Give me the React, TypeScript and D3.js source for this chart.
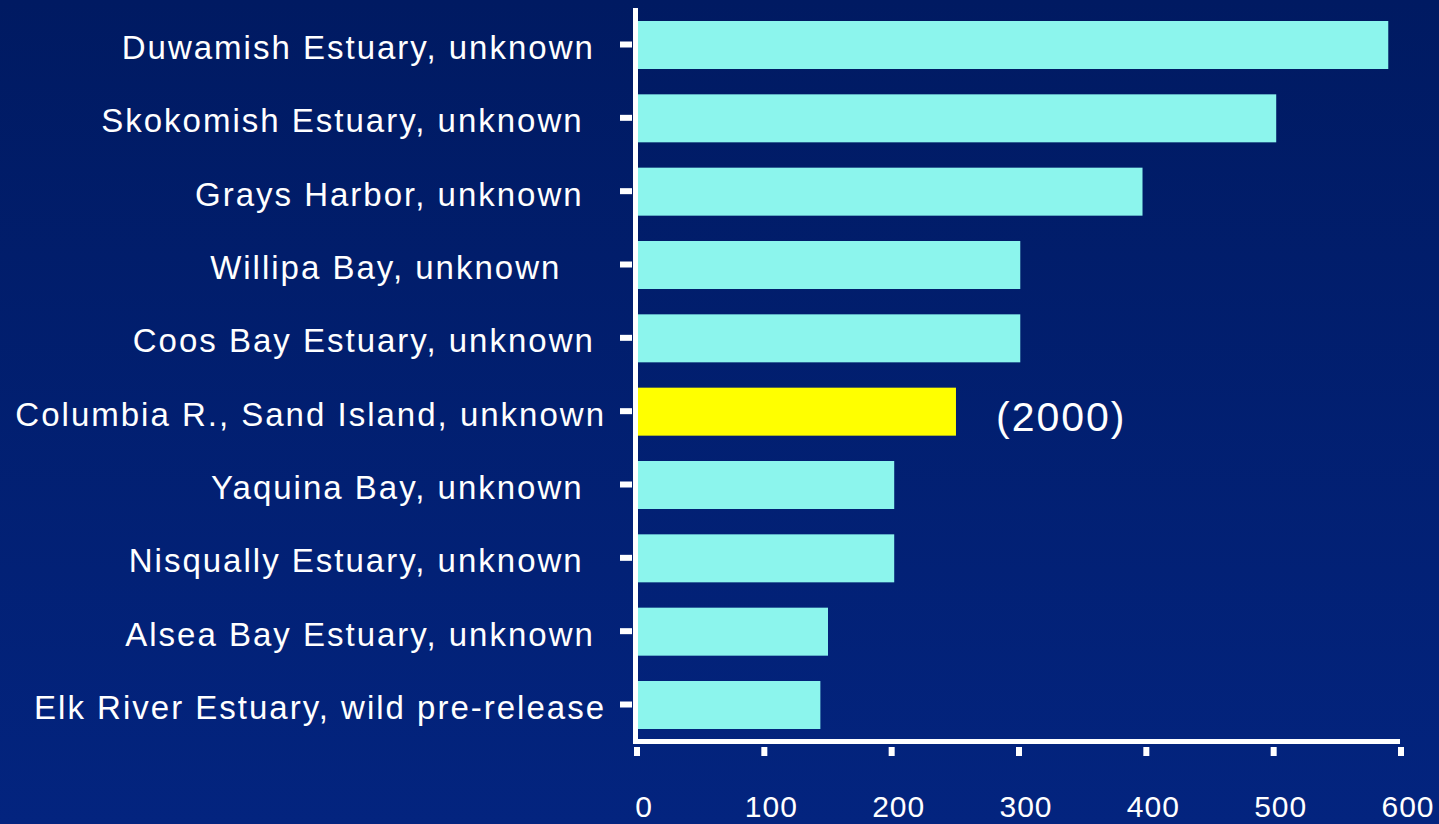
import { useMemo } from 'react';
import * as d3 from 'd3';

const sites = [
  'Duwamish Estuary, unknown ',
  'Skokomish Estuary, unknown  ',
  'Grays Harbor, unknown  ',
  'Willipa Bay, unknown    ',
  'Coos Bay Estuary, unknown ',
  'Columbia R., Sand Island, unknown',
  'Yaquina Bay, unknown  ',
  'Nisqually Estuary, unknown  ',
  'Alsea Bay Estuary, unknown ',
  'Elk River Estuary, wild pre-release',
];
const values = [590, 502, 397, 301, 301, 250.5, 202, 202, 150, 144];
const highlighted = 'Columbia R., Sand Island, unknown';
const highlightNote = '(2000)';
const xTicks = [0, 100, 200, 300, 400, 500, 600];

const WIDTH = 1439;
const HEIGHT = 824;
const FONT = 'Liberation Sans, Arial, sans-serif';

export default function App() {
  const xScale = useMemo(() => d3.scaleLinear().domain([0, 600]).range([637, 1401]), []);
  const yScale = useMemo(
    () =>
      d3
        .scaleBand<string>()
        .domain(sites)
        .range([8.33, 741.67])
        .paddingInner(0.3455)
        .paddingOuter(0.3455 / 2),
    [],
  );

  const bw = yScale.bandwidth();
  const axisX = 635.5;
  const axisY = 741.5;

  return (
    <div style={{ position: 'fixed', left: 0, top: 0, width: WIDTH, height: HEIGHT }}>
      <svg width={WIDTH} height={HEIGHT} style={{ display: 'block' }}>
        <defs>
          <linearGradient id="bg" x1="0" y1="0" x2="0" y2="1">
            <stop offset="0%" stopColor="#001a62" />
            <stop offset="100%" stopColor="#03247f" />
          </linearGradient>
        </defs>
        <rect width={WIDTH} height={HEIGHT} fill="url(#bg)" />

        {/* bars */}
        {sites.map((s, i) => (
          <rect
            key={s}
            x={xScale(0)}
            y={yScale(s)}
            width={xScale(values[i]) - xScale(0)}
            height={bw}
            fill={s === highlighted ? '#ffff00' : '#8cf5ed'}
          />
        ))}

        {/* category labels + ticks */}
        {sites.map((s) => {
          const cy = (yScale(s) ?? 0) + bw / 2;
          return (
            <g key={'l' + s}>
              <rect x={620} y={cy - 3.5} width={12} height={6} fill="#fff" />
              <text
                x={606}
                y={cy + 14}
                textAnchor="end"
                fill="#fff"
                fontFamily={FONT}
                fontSize={33}
                letterSpacing={2}
                style={{ whiteSpace: 'pre' }}
              >
                {s}
              </text>
            </g>
          );
        })}

        {/* axis lines */}
        <line x1={axisX} x2={axisX} y1={8} y2={axisY + 2.5} stroke="#fff" strokeWidth={5} />
        <line x1={633} x2={1400} y1={axisY} y2={axisY} stroke="#fff" strokeWidth={5} />

        {/* x ticks */}
        {xTicks.map((t) => (
          <g key={t}>
            <rect x={xScale(t) - 3} y={747} width={6} height={9} fill="#fff" />
            <text
              x={xScale(t) + 7}
              y={817}
              textAnchor="middle"
              fill="#fff"
              fontFamily={FONT}
              fontSize={30}
              letterSpacing={1}
            >
              {t}
            </text>
          </g>
        ))}

        {/* note */}
        <text
          x={996}
          y={431}
          fill="#fff"
          fontFamily={FONT}
          fontSize={41}
          letterSpacing={2}
        >
          {highlightNote}
        </text>
      </svg>
    </div>
  );
}
